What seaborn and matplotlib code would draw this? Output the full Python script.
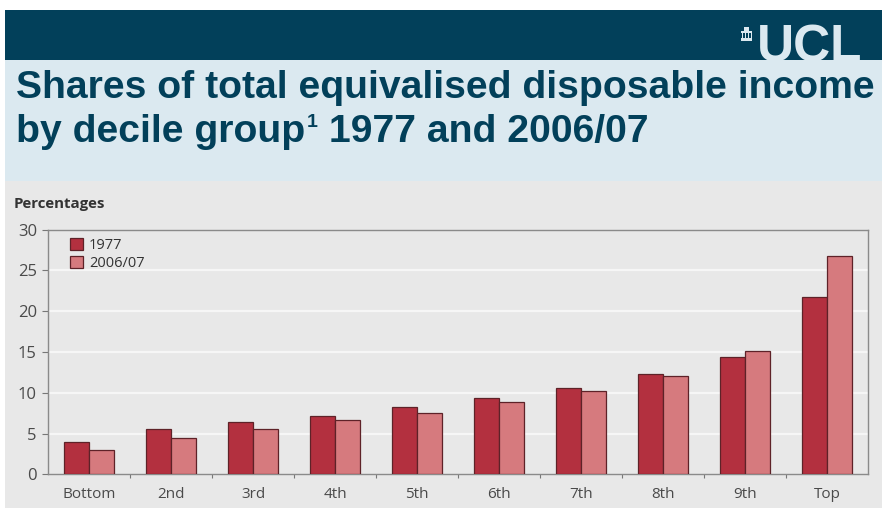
import matplotlib
matplotlib.use("Agg")
import matplotlib.pyplot as plt
from matplotlib.patches import Rectangle
import seaborn as sns
import pandas as pd

# Decile groups and their share of total equivalised disposable income (%)
deciles = ["Bottom", "2nd", "3rd", "4th", "5th", "6th", "7th", "8th", "9th", "Top"]
share_1977 = [4.0, 5.6, 6.4, 7.2, 8.2, 9.4, 10.6, 12.3, 14.4, 21.7]
share_2006 = [3.0, 4.5, 5.6, 6.6, 7.5, 8.8, 10.2, 12.0, 15.1, 26.8]
series = ["1977", "2006/07"]
y_ticks = [0, 5, 10, 15, 20, 25, 30]

title_line1 = "Shares of total equivalised disposable income"
title_line2a = "by decile group"
title_sup = "1"
title_line2b = " 1977 and 2006/07"

df = pd.DataFrame({
    "decile": deciles * 2,
    "share": share_1977 + share_2006,
    "year": [series[0]] * len(deciles) + [series[1]] * len(deciles),
})

DARK = "#02405a"
PANEL = "#dbe9f0"
CHART_BG = "#e8e8e8"
BAR_COLORS = ["#b3303f", "#d67a7e"]
TICK_GREY = "#4a4a4a"

sns.set_theme(style="white")
plt.rcParams["font.family"] = ["Liberation Sans", "DejaVu Sans"]

W, H = 882, 508
fig = plt.figure(figsize=(W / 100, H / 100), dpi=100)
fig.patch.set_facecolor("white")


def px_rect(x0, y0, x1, y1, color):
    fig.patches.append(Rectangle((x0 / W, 1 - y1 / H), (x1 - x0) / W, (y1 - y0) / H,
                                 transform=fig.transFigure, facecolor=color,
                                 edgecolor="none", zorder=-5))


# Header band, title panel and chart background
px_rect(5, 10, W, 60, DARK)
px_rect(5, 60, W, 181, PANEL)
px_rect(5, 181, W, H, CHART_BG)

# UCL wordmark with a small portico
fig.text(862 / W, 1 - 61 / H, "UCL", color=PANEL, fontsize=37, fontweight="bold",
         ha="right", va="baseline", family=["Liberation Sans"], zorder=-4)
px_rect(741, 38, 752, 41, PANEL)
for cx in (742, 745, 748, 751):
    px_rect(cx, 33, cx + 1.3, 38, PANEL)
px_rect(741, 31, 752, 33, PANEL)
px_rect(744, 27, 749, 31, PANEL)

# Title
TITLE_SIZE = 28.2
renderer = fig.canvas.get_renderer()
fig.text(16 / W, 1 - 97.5 / H, title_line1, color=DARK, fontsize=TITLE_SIZE,
         fontweight="bold", ha="left", va="baseline")
t2a = fig.text(16 / W, 1 - 142 / H, title_line2a, color=DARK, fontsize=TITLE_SIZE,
               fontweight="bold", ha="left", va="baseline")
bb = t2a.get_window_extent(renderer)
ts = fig.text(bb.x1 / W + 1.5 / W, 1 - 127 / H, title_sup, color=DARK, fontsize=14,
              fontweight="bold", ha="left", va="baseline")
bbs = ts.get_window_extent(renderer)
fig.text(bbs.x1 / W, 1 - 142 / H, title_line2b, color=DARK, fontsize=TITLE_SIZE,
         fontweight="bold", ha="left", va="baseline")

fig.text(14 / W, 1 - 208 / H, "Percentages", color="#333333", fontsize=10.8,
         fontweight="bold", ha="left", va="baseline", family=["Open Sans", "DejaVu Sans"])

# Bar chart
ax = fig.add_axes([48 / W, (H - 474.3) / H, 820 / W, 244.8 / H])
ax.set_facecolor(CHART_BG)
sns.barplot(data=df, x="decile", y="share", hue="year", palette=BAR_COLORS,
            width=0.6, gap=0, edgecolor="#5e2228", linewidth=0.9, ax=ax,
            saturation=1, zorder=3)

ax.set_ylim(0, 30)
ax.set_xlim(-0.5, len(deciles) - 0.5)
ax.set_yticks(y_ticks)
ax.set_yticklabels([str(v) for v in y_ticks])
for v in y_ticks[1:-1]:
    ax.axhline(v, color="#f6f6f6", linewidth=1.6, zorder=1)

ax.set_xlabel("")
ax.set_ylabel("")
ax.set_xticks(range(len(deciles)))
ax.set_xticklabels(deciles)
ax.set_xticks([i + 0.5 for i in range(len(deciles) - 1)], minor=True)
ax.tick_params(axis="x", which="major", length=0, pad=9, labelsize=11,
               labelcolor=TICK_GREY)
ax.tick_params(axis="x", which="minor", length=3, width=0.8, color="#777777",
               direction="out", bottom=True)
ax.tick_params(axis="y", length=4, width=0.8, color="#777777", direction="out",
               left=True, pad=4, labelsize=12, labelcolor=TICK_GREY)
for lab in ax.get_xticklabels() + ax.get_yticklabels():
    lab.set_family(["Open Sans", "DejaVu Sans"])

for side in ("left", "right", "top", "bottom"):
    ax.spines[side].set_visible(True)
    ax.spines[side].set_color("#8a8a8a")
    ax.spines[side].set_linewidth(1.0)

leg = ax.legend(loc="upper left", bbox_to_anchor=(0.016, 1.0), frameon=False,
                handlelength=0.9, handleheight=0.9, handletextpad=0.4,
                labelspacing=0.15, borderaxespad=0.2,
                prop={"family": ["Open Sans", "DejaVu Sans"], "size": 10.5})
for txt in leg.get_texts():
    txt.set_color("#333333")

fig.savefig("out.png", dpi=100, facecolor=fig.get_facecolor())
